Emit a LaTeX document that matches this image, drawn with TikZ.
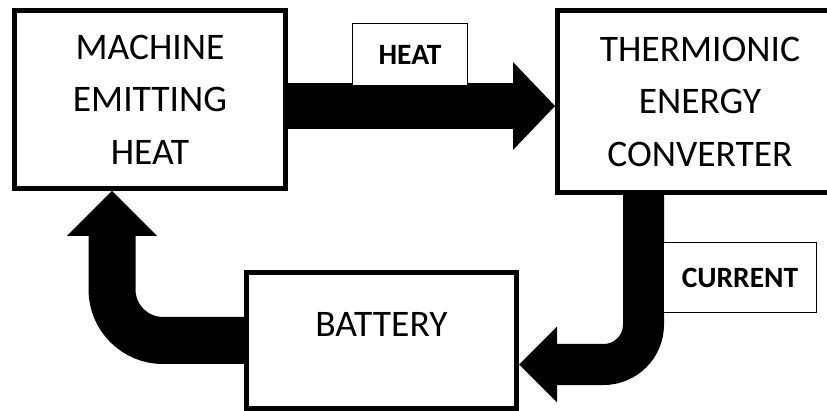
\documentclass[tikz,border=0pt]{standalone}
\usepackage{fontspec}
\setmainfont{Carlito}
\usetikzlibrary{arrows.meta}
\begin{document}
\begin{tikzpicture}[x=1pt,y=-1pt,
  bigbox/.style={draw=black, line width=5pt, fill=white, inner sep=0pt, align=center,
    font=\fontsize{37.5}{52.5}\selectfont},
  tagbox/.style={draw=black, line width=1.3pt, fill=white, inner sep=0pt,
    font=\fontsize{29.5}{32}\selectfont\bfseries},
  fatarrow/.style={draw=black, line cap=butt, line join=miter}
]
\useasboundingbox (0,0) rectangle (827,411);
\clip (0,0) rectangle (827,411);
\fill[white] (0,0) rectangle (827,411);

\node[bigbox, minimum width=271pt, minimum height=178pt] (machine) at (150,99.5) {MACHINE\\EMITTING\\HEAT};
\node[bigbox, minimum width=285pt, minimum height=182pt] (thermionic) at (700,101.5) {THERMIONIC\\ENERGY\\CONVERTER};
\node[bigbox, minimum width=270pt, minimum height=136pt, text height=23pt, text depth=30pt] (battery) at (381.5,340.5) {BATTERY};

\coordinate (h1) at ([yshift=-6.5pt]machine.east);
\draw[fatarrow, line width=46pt, -{Triangle[length=42pt,width=88pt,line width=0pt]}]
  (h1) -- (h1 -| thermionic.west);
\draw[fatarrow, line width=41pt, rounded corners=40pt, -{Triangle[length=38pt,width=76pt,line width=0pt]}]
  ([xshift=-56.5pt]thermionic.south) |- ([yshift=-24pt]battery.east);
\draw[fatarrow, line width=47pt, rounded corners=51pt, -{Triangle[length=45pt,width=90pt,line width=0pt]}]
  (battery.west) -| ([xshift=-38pt]machine.south);

\node[tagbox, minimum width=115pt, minimum height=62pt] (heatlbl) at (410,54.5) {HEAT};
\node[tagbox, minimum width=153pt, minimum height=70pt] (currentlbl) at (740,277.5) {CURRENT};
\end{tikzpicture}
\end{document}
